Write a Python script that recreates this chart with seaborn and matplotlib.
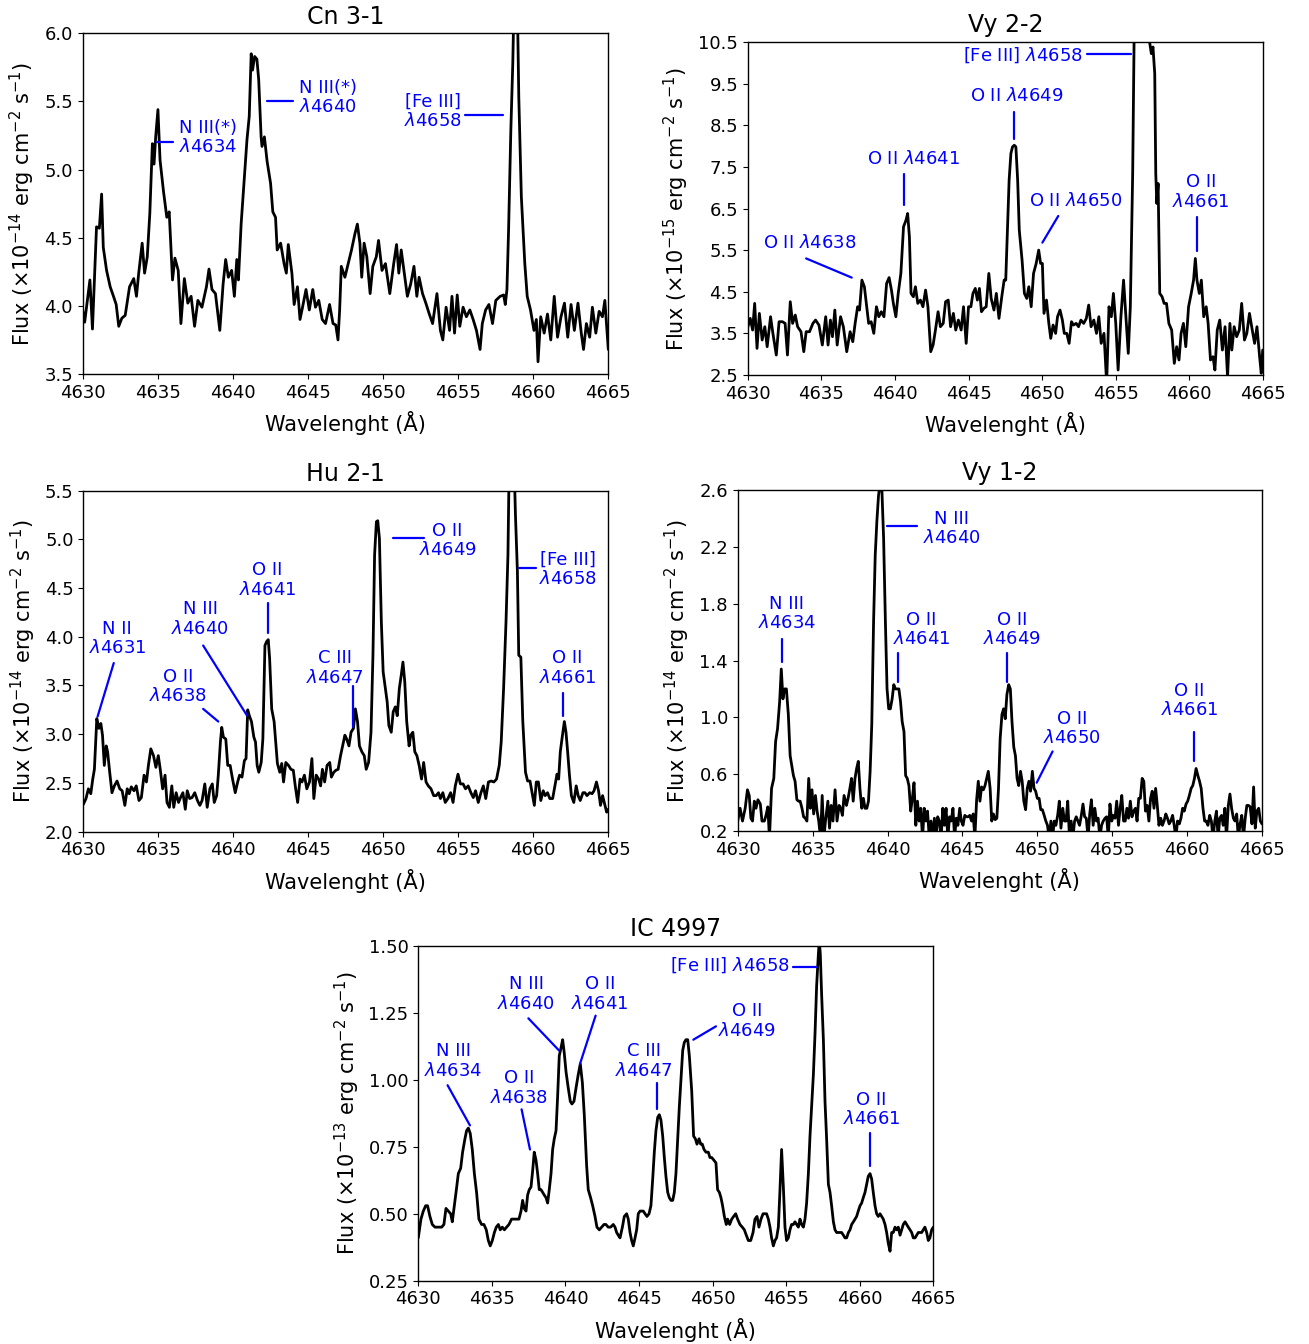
import numpy as np
import pandas as pd
import matplotlib
matplotlib.use("Agg")
import matplotlib.pyplot as plt
import seaborn as sns

# ---------------- data ----------------
titles = ["Cn 3-1", "Vy 2-2", "Hu 2-1", "Vy 1-2", "IC 4997"]
flux_exponents = [-14, -15, -14, -14, -13]
x_ticks = [4630, 4635, 4640, 4645, 4650, 4655, 4660, 4665]
y_ticks_cn31 = [3.5, 4.0, 4.5, 5.0, 5.5, 6.0]
y_ticks_vy22 = [2.5, 3.5, 4.5, 5.5, 6.5, 7.5, 8.5, 9.5, 10.5]
y_ticks_hu21 = [2.0, 2.5, 3.0, 3.5, 4.0, 4.5, 5.0, 5.5]
y_ticks_vy12 = [0.2, 0.6, 1.0, 1.4, 1.8, 2.2, 2.6]
y_ticks_ic4997 = [0.25, 0.50, 0.75, 1.00, 1.25, 1.50]

wl_cn31 = [4630.00, 4630.13, 4630.29, 4630.48, 4630.65, 4630.92, 4631.11, 4631.26, 4631.37, 4631.59,
           4631.83, 4632.05, 4632.23, 4632.40, 4632.61, 4632.83, 4633.12, 4633.40, 4633.58, 4633.73,
           4633.96, 4634.12, 4634.30, 4634.47, 4634.64, 4634.75, 4634.86, 4635.01, 4635.15, 4635.38,
           4635.60, 4635.76, 4635.98, 4636.14, 4636.36, 4636.54, 4636.77, 4637.00, 4637.22, 4637.45,
           4637.67, 4637.94, 4638.24, 4638.41, 4638.61, 4638.84, 4639.13, 4639.35, 4639.52, 4639.70,
           4639.92, 4640.10, 4640.26, 4640.37, 4640.55, 4640.77, 4640.94, 4641.09, 4641.22, 4641.31,
           4641.45, 4641.60, 4641.72, 4641.88, 4641.94, 4642.10, 4642.28, 4642.51, 4642.66, 4642.84,
           4642.95, 4643.18, 4643.41, 4643.56, 4643.69, 4643.93, 4644.08, 4644.30, 4644.47, 4644.64,
           4644.87, 4645.09, 4645.32, 4645.50, 4645.72, 4645.95, 4646.17, 4646.44, 4646.67, 4646.85,
           4647.00, 4647.11, 4647.22, 4647.46, 4647.68, 4647.90, 4648.13, 4648.29, 4648.46, 4648.58,
           4648.74, 4648.92, 4649.14, 4649.32, 4649.55, 4649.70, 4649.93, 4650.16, 4650.45, 4650.71,
           4650.90, 4651.05, 4651.21, 4651.39, 4651.62, 4651.84, 4652.06, 4652.25, 4652.40, 4652.63,
           4652.85, 4653.08, 4653.30, 4653.59, 4653.82, 4653.98, 4654.20, 4654.43, 4654.59, 4654.76,
           4654.94, 4655.11, 4655.33, 4655.55, 4655.78, 4656.00, 4656.22, 4656.46, 4656.61, 4656.83,
           4657.05, 4657.29, 4657.51, 4657.80, 4658.03, 4658.14, 4658.25, 4658.36, 4658.51, 4658.64,
           4658.75, 4658.92, 4659.04, 4659.21, 4659.44, 4659.60, 4659.82, 4660.05, 4660.21, 4660.32,
           4660.50, 4660.73, 4660.95, 4661.17, 4661.40, 4661.62, 4661.85, 4662.08, 4662.30, 4662.52,
           4662.74, 4662.98, 4663.20, 4663.35, 4663.54, 4663.76, 4663.94, 4664.17, 4664.39, 4664.61,
           4664.77, 4665.00]
flux_cn31 = [3.97, 3.88, 4.02, 4.19, 3.83, 4.58, 4.57, 4.82, 4.43, 4.26,
             4.14, 4.07, 4.01, 3.85, 3.91, 3.93, 4.14, 4.20, 4.07, 4.24,
             4.46, 4.24, 4.36, 4.68, 5.19, 5.04, 5.24, 5.44, 5.07, 4.84,
             4.65, 4.69, 4.19, 4.35, 4.26, 3.87, 4.20, 4.02, 4.07, 3.85,
             4.04, 3.99, 4.14, 4.27, 4.12, 4.09, 3.82, 4.16, 4.34, 4.21,
             4.26, 4.07, 4.34, 4.19, 4.60, 4.95, 5.22, 5.39, 5.85, 5.73,
             5.83, 5.81, 5.66, 5.24, 5.17, 5.24, 5.06, 4.90, 4.69, 4.65,
             4.41, 4.46, 4.31, 4.24, 4.45, 4.24, 4.01, 4.14, 3.90, 3.99,
             4.12, 3.97, 4.12, 3.99, 4.04, 3.90, 3.87, 4.01, 3.87, 3.86,
             3.75, 3.97, 4.29, 4.21, 4.31, 4.41, 4.53, 4.60, 4.46, 4.21,
             4.46, 4.36, 4.09, 4.29, 4.36, 4.48, 4.26, 4.31, 4.09, 4.31,
             4.45, 4.24, 4.41, 4.26, 4.07, 4.16, 4.29, 4.07, 4.21, 4.09,
             4.02, 3.94, 3.87, 4.09, 3.82, 3.75, 3.99, 3.82, 4.07, 3.80,
             4.08, 3.85, 3.99, 3.92, 3.97, 3.90, 3.82, 3.68, 3.87, 3.97,
             4.01, 3.87, 4.04, 4.07, 4.08, 4.01, 4.12, 4.56, 5.29, 5.78,
             6.40, 6.40, 5.53, 4.80, 4.31, 4.07, 3.97, 3.82, 3.90, 3.59,
             3.92, 3.80, 3.94, 3.75, 4.07, 3.77, 3.92, 4.02, 3.77, 4.01,
             3.82, 4.02, 3.80, 3.68, 3.87, 3.77, 3.99, 3.80, 3.96, 3.92,
             4.04, 3.68]

wl_vy22 = [4630.00, 4630.16, 4630.32, 4630.46, 4630.62, 4630.78, 4630.97, 4631.15, 4631.31, 4631.54,
           4631.70, 4631.93, 4632.12, 4632.35, 4632.53, 4632.69, 4632.88, 4633.04, 4633.22, 4633.38,
           4633.61, 4633.80, 4633.96, 4634.19, 4634.42, 4634.60, 4634.83, 4635.06, 4635.29, 4635.45,
           4635.61, 4635.75, 4635.91, 4636.07, 4636.30, 4636.49, 4636.72, 4636.95, 4637.13, 4637.29,
           4637.46, 4637.59, 4637.75, 4637.92, 4638.05, 4638.21, 4638.38, 4638.56, 4638.74, 4638.90,
           4639.07, 4639.25, 4639.43, 4639.60, 4639.76, 4639.89, 4640.06, 4640.22, 4640.40, 4640.58,
           4640.75, 4640.86, 4640.98, 4641.09, 4641.25, 4641.39, 4641.55, 4641.73, 4641.90, 4642.08,
           4642.24, 4642.43, 4642.59, 4642.75, 4642.93, 4643.09, 4643.28, 4643.44, 4643.62, 4643.78,
           4643.97, 4644.13, 4644.31, 4644.50, 4644.66, 4644.84, 4645.00, 4645.16, 4645.30, 4645.46,
           4645.60, 4645.74, 4645.88, 4646.04, 4646.20, 4646.38, 4646.54, 4646.73, 4646.89, 4647.07,
           4647.26, 4647.42, 4647.53, 4647.65, 4647.76, 4647.88, 4647.99, 4648.11, 4648.22, 4648.34,
           4648.45, 4648.64, 4648.80, 4648.96, 4649.10, 4649.26, 4649.42, 4649.60, 4649.77, 4649.90,
           4650.02, 4650.13, 4650.30, 4650.46, 4650.59, 4650.75, 4650.92, 4651.05, 4651.22, 4651.38,
           4651.51, 4651.68, 4651.84, 4652.00, 4652.14, 4652.32, 4652.48, 4652.64, 4652.83, 4653.01,
           4653.17, 4653.33, 4653.52, 4653.70, 4653.86, 4654.02, 4654.21, 4654.39, 4654.55, 4654.71,
           4654.85, 4655.01, 4655.17, 4655.36, 4655.54, 4655.70, 4655.86, 4656.00, 4656.16, 4656.28,
           4656.51, 4656.74, 4657.05, 4657.31, 4657.43, 4657.54, 4657.66, 4657.73, 4657.80, 4657.89,
           4658.00, 4658.16, 4658.30, 4658.46, 4658.62, 4658.81, 4658.99, 4659.15, 4659.31, 4659.45,
           4659.61, 4659.77, 4659.96, 4660.14, 4660.30, 4660.42, 4660.53, 4660.69, 4660.83, 4660.99,
           4661.16, 4661.29, 4661.45, 4661.62, 4661.75, 4661.91, 4662.08, 4662.26, 4662.44, 4662.61,
           4662.77, 4662.90, 4663.06, 4663.23, 4663.41, 4663.57, 4663.76, 4663.92, 4664.10, 4664.29,
           4664.45, 4664.61, 4664.79, 4664.90, 4665.00]
flux_vy22 = [3.66, 3.86, 3.58, 4.22, 3.14, 3.98, 3.34, 3.66, 3.18, 3.90,
             3.50, 2.98, 3.78, 3.78, 3.74, 2.98, 4.26, 3.74, 3.94, 3.66,
             3.54, 3.06, 3.54, 3.54, 3.74, 3.82, 3.70, 3.22, 3.90, 3.22,
             3.82, 3.42, 4.06, 3.22, 3.90, 3.66, 3.06, 3.54, 3.30, 3.74,
             4.14, 4.06, 4.78, 4.62, 4.22, 3.74, 3.78, 3.50, 4.14, 3.90,
             4.02, 3.90, 4.70, 4.84, 4.54, 4.22, 3.90, 4.46, 4.94, 6.06,
             6.22, 6.38, 5.82, 4.46, 4.38, 4.62, 4.22, 4.30, 4.14, 4.54,
             4.14, 3.06, 3.22, 3.58, 4.02, 3.66, 3.74, 4.26, 4.30, 3.66,
             3.98, 3.58, 3.82, 3.58, 4.14, 3.26, 4.14, 4.14, 4.46, 4.58,
             4.30, 4.58, 4.02, 4.10, 4.14, 4.94, 4.34, 4.06, 4.46, 3.86,
             4.38, 4.78, 4.78, 6.06, 7.18, 7.82, 7.98, 8.02, 7.98, 7.18,
             5.98, 5.26, 4.46, 4.34, 4.62, 4.14, 4.94, 5.18, 5.50, 5.18,
             5.18, 3.98, 4.30, 3.74, 3.38, 3.70, 3.50, 3.90, 4.06, 3.82,
             3.50, 3.50, 3.26, 3.78, 3.70, 3.74, 3.66, 3.82, 3.74, 3.86,
             4.18, 3.66, 3.82, 3.50, 3.90, 3.26, 3.50, 2.30, 4.14, 3.90,
             4.46, 3.74, 2.62, 3.90, 4.78, 3.90, 3.02, 4.14, 7.34, 11.50,
             13.00, 14.00, 12.50, 10.50, 10.22, 10.38, 9.74, 7.34, 6.62, 7.10,
             4.46, 4.38, 4.22, 4.22, 3.74, 3.58, 2.78, 3.18, 2.86, 3.50,
             3.74, 3.18, 4.14, 4.46, 4.78, 5.30, 4.78, 4.46, 4.78, 3.90,
             4.14, 3.74, 2.86, 2.94, 2.62, 3.58, 3.82, 3.10, 3.66, 2.45,
             3.74, 3.10, 3.66, 3.42, 3.58, 4.22, 3.34, 3.50, 3.98, 3.58,
             3.26, 3.66, 2.94, 2.54, 3.10]

wl_hu21 = [4630.00, 4630.18, 4630.34, 4630.50, 4630.63, 4630.74, 4630.90, 4631.04, 4631.17, 4631.28,
           4631.40, 4631.53, 4631.62, 4631.76, 4631.91, 4632.07, 4632.25, 4632.43, 4632.59, 4632.77,
           4632.93, 4633.06, 4633.20, 4633.38, 4633.53, 4633.71, 4633.87, 4634.05, 4634.21, 4634.34,
           4634.50, 4634.68, 4634.84, 4635.00, 4635.13, 4635.29, 4635.45, 4635.58, 4635.74, 4635.90,
           4636.03, 4636.19, 4636.35, 4636.48, 4636.64, 4636.80, 4636.93, 4637.09, 4637.25, 4637.43,
           4637.61, 4637.77, 4637.92, 4638.10, 4638.26, 4638.44, 4638.60, 4638.73, 4638.89, 4639.00,
           4639.14, 4639.23, 4639.34, 4639.50, 4639.63, 4639.79, 4639.95, 4640.13, 4640.29, 4640.42,
           4640.58, 4640.74, 4640.85, 4640.96, 4641.07, 4641.21, 4641.37, 4641.48, 4641.59, 4641.70,
           4641.86, 4641.97, 4642.11, 4642.22, 4642.33, 4642.42, 4642.56, 4642.72, 4642.83, 4642.94,
           4643.10, 4643.23, 4643.35, 4643.50, 4643.68, 4643.84, 4644.00, 4644.13, 4644.29, 4644.45,
           4644.58, 4644.74, 4644.90, 4645.08, 4645.24, 4645.37, 4645.53, 4645.69, 4645.82, 4645.94,
           4646.09, 4646.25, 4646.43, 4646.54, 4646.70, 4646.84, 4646.99, 4647.15, 4647.29, 4647.44,
           4647.56, 4647.71, 4647.85, 4648.01, 4648.14, 4648.28, 4648.41, 4648.57, 4648.73, 4648.86,
           4649.02, 4649.18, 4649.31, 4649.42, 4649.54, 4649.63, 4649.74, 4649.87, 4649.99, 4650.14,
           4650.26, 4650.37, 4650.53, 4650.66, 4650.80, 4650.93, 4651.07, 4651.20, 4651.31, 4651.43,
           4651.56, 4651.72, 4651.83, 4651.97, 4652.10, 4652.24, 4652.39, 4652.55, 4652.69, 4652.85,
           4653.00, 4653.18, 4653.36, 4653.52, 4653.68, 4653.81, 4653.97, 4654.13, 4654.31, 4654.49,
           4654.65, 4654.80, 4654.98, 4655.14, 4655.32, 4655.48, 4655.66, 4655.84, 4656.00, 4656.15,
           4656.33, 4656.51, 4656.67, 4656.83, 4657.01, 4657.19, 4657.37, 4657.55, 4657.73, 4657.86,
           4658.02, 4658.18, 4658.31, 4658.43, 4658.65, 4658.81, 4658.94, 4659.03, 4659.17, 4659.30,
           4659.48, 4659.62, 4659.78, 4659.93, 4660.07, 4660.20, 4660.34, 4660.50, 4660.66, 4660.79,
           4660.95, 4661.10, 4661.29, 4661.44, 4661.58, 4661.69, 4661.80, 4661.91, 4662.07, 4662.18,
           4662.29, 4662.41, 4662.54, 4662.70, 4662.86, 4662.99, 4663.13, 4663.31, 4663.44, 4663.58,
           4663.76, 4663.92, 4664.05, 4664.21, 4664.35, 4664.48, 4664.62, 4664.73, 4664.89, 4665.00]
flux_hu21 = [2.28, 2.34, 2.44, 2.39, 2.54, 2.64, 3.16, 3.06, 3.11, 2.99,
             2.68, 2.88, 2.82, 2.61, 2.40, 2.47, 2.52, 2.44, 2.42, 2.27,
             2.44, 2.39, 2.46, 2.42, 2.47, 2.32, 2.35, 2.58, 2.51, 2.68,
             2.85, 2.78, 2.66, 2.78, 2.64, 2.44, 2.58, 2.30, 2.25, 2.47,
             2.25, 2.40, 2.30, 2.35, 2.40, 2.23, 2.42, 2.34, 2.35, 2.40,
             2.32, 2.27, 2.32, 2.49, 2.25, 2.44, 2.49, 2.30, 2.37, 2.58,
             2.92, 3.07, 2.97, 2.95, 2.68, 2.68, 2.54, 2.40, 2.51, 2.58,
             2.56, 2.73, 2.75, 3.25, 3.19, 3.13, 2.97, 2.92, 2.68, 2.61,
             2.71, 2.95, 3.91, 3.95, 3.97, 3.78, 3.26, 3.13, 2.92, 2.70,
             2.61, 2.70, 2.51, 2.71, 2.68, 2.64, 2.63, 2.47, 2.30, 2.54,
             2.51, 2.58, 2.44, 2.51, 2.75, 2.34, 2.58, 2.54, 2.47, 2.64,
             2.51, 2.68, 2.71, 2.56, 2.61, 2.63, 2.64, 2.78, 2.88, 2.99,
             2.95, 2.88, 3.02, 3.06, 3.26, 3.13, 2.88, 2.82, 2.78, 2.64,
             2.71, 3.02, 3.81, 4.84, 5.18, 5.19, 5.01, 4.15, 3.64, 3.47,
             3.33, 3.09, 3.02, 3.23, 3.28, 3.19, 3.47, 3.61, 3.74, 3.54,
             3.13, 2.88, 2.99, 3.02, 2.82, 2.78, 2.68, 2.54, 2.71, 2.51,
             2.47, 2.44, 2.37, 2.37, 2.40, 2.34, 2.40, 2.30, 2.34, 2.40,
             2.30, 2.47, 2.59, 2.49, 2.49, 2.44, 2.47, 2.40, 2.35, 2.42,
             2.30, 2.40, 2.47, 2.34, 2.51, 2.52, 2.51, 2.54, 2.68, 2.92,
             3.47, 4.15, 4.84, 6.20, 6.20, 5.25, 4.67, 3.81, 3.79, 3.13,
             2.61, 2.52, 2.52, 2.39, 2.27, 2.51, 2.51, 2.32, 2.42, 2.37,
             2.40, 2.34, 2.34, 2.47, 2.59, 2.54, 2.82, 2.95, 3.13, 3.02,
             2.82, 2.58, 2.37, 2.30, 2.47, 2.37, 2.32, 2.40, 2.40, 2.37,
             2.40, 2.39, 2.42, 2.51, 2.42, 2.27, 2.37, 2.30, 2.20, 2.23]

wl_vy12 = [4630.00, 4630.16, 4630.32, 4630.50, 4630.65, 4630.77, 4630.88, 4630.99, 4631.11, 4631.22,
           4631.35, 4631.51, 4631.62, 4631.78, 4631.89, 4632.01, 4632.12, 4632.26, 4632.41, 4632.53,
           4632.66, 4632.80, 4632.91, 4633.02, 4633.13, 4633.25, 4633.38, 4633.50, 4633.61, 4633.72,
           4633.83, 4633.95, 4634.06, 4634.17, 4634.29, 4634.40, 4634.51, 4634.62, 4634.74, 4634.85,
           4634.96, 4635.07, 4635.19, 4635.30, 4635.41, 4635.53, 4635.64, 4635.75, 4635.86, 4636.02,
           4636.13, 4636.24, 4636.36, 4636.50, 4636.63, 4636.77, 4636.88, 4636.99, 4637.10, 4637.26,
           4637.37, 4637.49, 4637.60, 4637.71, 4637.83, 4637.94, 4638.05, 4638.16, 4638.28, 4638.39,
           4638.50, 4638.62, 4638.73, 4638.84, 4638.95, 4639.07, 4639.18, 4639.29, 4639.40, 4639.52,
           4639.63, 4639.74, 4639.86, 4639.97, 4640.08, 4640.19, 4640.31, 4640.42, 4640.53, 4640.65,
           4640.76, 4640.87, 4640.98, 4641.10, 4641.21, 4641.32, 4641.43, 4641.55, 4641.66, 4641.77,
           4641.89, 4642.00, 4642.11, 4642.22, 4642.34, 4642.45, 4642.56, 4642.67, 4642.79, 4642.90,
           4643.01, 4643.13, 4643.24, 4643.35, 4643.46, 4643.58, 4643.69, 4643.80, 4643.91, 4644.03,
           4644.14, 4644.25, 4644.37, 4644.48, 4644.59, 4644.70, 4644.82, 4644.93, 4645.04, 4645.16,
           4645.27, 4645.38, 4645.49, 4645.61, 4645.72, 4645.83, 4645.95, 4646.06, 4646.17, 4646.28,
           4646.40, 4646.51, 4646.62, 4646.73, 4646.85, 4646.96, 4647.07, 4647.19, 4647.30, 4647.41,
           4647.52, 4647.64, 4647.75, 4647.86, 4647.97, 4648.09, 4648.20, 4648.31, 4648.43, 4648.54,
           4648.65, 4648.76, 4648.88, 4648.99, 4649.10, 4649.22, 4649.33, 4649.44, 4649.55, 4649.67,
           4649.78, 4649.89, 4650.00, 4650.12, 4650.23, 4650.34, 4650.46, 4650.57, 4650.68, 4650.79,
           4650.91, 4651.02, 4651.13, 4651.24, 4651.36, 4651.47, 4651.58, 4651.70, 4651.81, 4651.92,
           4652.03, 4652.15, 4652.26, 4652.37, 4652.49, 4652.60, 4652.71, 4652.82, 4652.94, 4653.05,
           4653.16, 4653.27, 4653.39, 4653.50, 4653.61, 4653.73, 4653.84, 4653.95, 4654.06, 4654.18,
           4654.29, 4654.40, 4654.52, 4654.63, 4654.74, 4654.85, 4654.97, 4655.08, 4655.19, 4655.30,
           4655.42, 4655.53, 4655.64, 4655.76, 4655.87, 4655.98, 4656.09, 4656.21, 4656.32, 4656.43,
           4656.55, 4656.66, 4656.77, 4656.88, 4657.00, 4657.11, 4657.22, 4657.33, 4657.45, 4657.56,
           4657.67, 4657.79, 4657.90, 4658.01, 4658.12, 4658.24, 4658.35, 4658.46, 4658.58, 4658.69,
           4658.80, 4658.91, 4659.03, 4659.14, 4659.25, 4659.36, 4659.48, 4659.59, 4659.70, 4659.81,
           4659.93, 4660.04, 4660.15, 4660.27, 4660.38, 4660.49, 4660.60, 4660.72, 4660.83, 4660.94,
           4661.06, 4661.17, 4661.28, 4661.39, 4661.51, 4661.62, 4661.73, 4661.85, 4661.96, 4662.07,
           4662.18, 4662.30, 4662.41, 4662.52, 4662.63, 4662.75, 4662.86, 4662.97, 4663.09, 4663.20,
           4663.31, 4663.42, 4663.54, 4663.65, 4663.76, 4663.88, 4663.99, 4664.10, 4664.21, 4664.33,
           4664.44, 4664.55, 4664.66, 4664.78, 4664.89, 4665.00]
flux_vy12 = [0.27, 0.36, 0.27, 0.36, 0.49, 0.45, 0.29, 0.27, 0.41, 0.36,
             0.42, 0.39, 0.27, 0.27, 0.31, 0.37, 0.15, 0.50, 0.57, 0.83,
             0.92, 1.11, 1.34, 1.13, 1.20, 1.20, 1.02, 0.73, 0.66, 0.59,
             0.55, 0.42, 0.41, 0.41, 0.36, 0.30, 0.29, 0.27, 0.57, 0.36,
             0.49, 0.32, 0.45, 0.34, 0.27, 0.15, 0.45, 0.15, 0.27, 0.41,
             0.22, 0.38, 0.27, 0.49, 0.27, 0.38, 0.36, 0.31, 0.45, 0.38,
             0.43, 0.50, 0.57, 0.41, 0.57, 0.64, 0.69, 0.50, 0.36, 0.43,
             0.36, 0.36, 0.41, 0.62, 0.95, 1.67, 2.14, 2.38, 2.56, 2.66,
             2.59, 2.26, 1.67, 1.20, 1.06, 1.06, 1.13, 1.23, 1.20, 1.20,
             1.20, 1.11, 0.97, 0.90, 0.59, 0.57, 0.52, 0.34, 0.43, 0.54,
             0.24, 0.41, 0.27, 0.36, 0.15, 0.36, 0.27, 0.34, 0.15, 0.27,
             0.15, 0.29, 0.15, 0.30, 0.27, 0.15, 0.36, 0.24, 0.36, 0.15,
             0.30, 0.27, 0.36, 0.15, 0.29, 0.24, 0.36, 0.27, 0.24, 0.31,
             0.30, 0.30, 0.31, 0.27, 0.32, 0.15, 0.42, 0.55, 0.41, 0.51,
             0.49, 0.52, 0.57, 0.62, 0.50, 0.27, 0.32, 0.28, 0.29, 0.50,
             0.85, 1.02, 1.06, 0.99, 1.16, 1.23, 1.20, 0.97, 0.79, 0.73,
             0.57, 0.52, 0.62, 0.55, 0.41, 0.35, 0.50, 0.55, 0.48, 0.62,
             0.50, 0.48, 0.43, 0.43, 0.35, 0.35, 0.31, 0.27, 0.24, 0.15,
             0.27, 0.15, 0.27, 0.24, 0.31, 0.41, 0.22, 0.36, 0.27, 0.27,
             0.41, 0.15, 0.27, 0.15, 0.27, 0.30, 0.27, 0.24, 0.31, 0.39,
             0.30, 0.29, 0.15, 0.32, 0.42, 0.24, 0.36, 0.27, 0.29, 0.15,
             0.24, 0.27, 0.29, 0.30, 0.15, 0.39, 0.27, 0.31, 0.29, 0.41,
             0.24, 0.36, 0.45, 0.27, 0.27, 0.36, 0.29, 0.41, 0.30, 0.34,
             0.36, 0.27, 0.43, 0.43, 0.57, 0.55, 0.34, 0.38, 0.27, 0.43,
             0.48, 0.36, 0.50, 0.38, 0.24, 0.29, 0.24, 0.27, 0.32, 0.29,
             0.25, 0.27, 0.31, 0.24, 0.15, 0.27, 0.25, 0.29, 0.36, 0.34,
             0.39, 0.41, 0.45, 0.50, 0.52, 0.57, 0.64, 0.59, 0.55, 0.50,
             0.36, 0.27, 0.27, 0.24, 0.31, 0.27, 0.15, 0.27, 0.34, 0.15,
             0.29, 0.31, 0.24, 0.36, 0.15, 0.38, 0.46, 0.36, 0.29, 0.27,
             0.32, 0.15, 0.25, 0.31, 0.15, 0.29, 0.38, 0.38, 0.37, 0.25,
             0.51, 0.22, 0.34, 0.36, 0.27, 0.25]

wl_ic4997 = [4630.00, 4630.18, 4630.34, 4630.50, 4630.63, 4630.79, 4630.95, 4631.13, 4631.36, 4631.59,
             4631.74, 4631.88, 4632.04, 4632.20, 4632.31, 4632.45, 4632.61, 4632.72, 4632.88, 4633.01,
             4633.17, 4633.28, 4633.40, 4633.53, 4633.67, 4633.81, 4633.96, 4634.12, 4634.30, 4634.46,
             4634.62, 4634.76, 4634.89, 4635.03, 4635.17, 4635.30, 4635.44, 4635.57, 4635.71, 4635.85,
             4636.00, 4636.16, 4636.34, 4636.50, 4636.68, 4636.84, 4636.98, 4637.09, 4637.20, 4637.32,
             4637.43, 4637.54, 4637.66, 4637.77, 4637.88, 4638.00, 4638.11, 4638.22, 4638.34, 4638.45,
             4638.56, 4638.68, 4638.79, 4638.90, 4639.02, 4639.13, 4639.24, 4639.36, 4639.47, 4639.58,
             4639.70, 4639.81, 4639.92, 4640.04, 4640.19, 4640.33, 4640.44, 4640.58, 4640.72, 4640.87,
             4641.01, 4641.15, 4641.28, 4641.44, 4641.55, 4641.71, 4641.85, 4642.01, 4642.14, 4642.30,
             4642.46, 4642.62, 4642.75, 4642.91, 4643.07, 4643.25, 4643.37, 4643.48, 4643.59, 4643.71,
             4643.87, 4644.00, 4644.16, 4644.27, 4644.39, 4644.50, 4644.61, 4644.73, 4644.84, 4644.95,
             4645.07, 4645.18, 4645.29, 4645.41, 4645.54, 4645.68, 4645.81, 4645.93, 4646.04, 4646.15,
             4646.27, 4646.38, 4646.49, 4646.61, 4646.72, 4646.83, 4646.95, 4647.06, 4647.17, 4647.29,
             4647.40, 4647.51, 4647.63, 4647.74, 4647.85, 4647.97, 4648.08, 4648.19, 4648.31, 4648.42,
             4648.58, 4648.71, 4648.83, 4648.94, 4649.08, 4649.19, 4649.30, 4649.42, 4649.55, 4649.71,
             4649.82, 4649.94, 4650.09, 4650.23, 4650.34, 4650.46, 4650.57, 4650.68, 4650.80, 4650.93,
             4651.02, 4651.16, 4651.30, 4651.43, 4651.57, 4651.70, 4651.86, 4652.02, 4652.16, 4652.29,
             4652.43, 4652.59, 4652.75, 4652.88, 4653.02, 4653.15, 4653.29, 4653.43, 4653.56, 4653.67,
             4653.79, 4653.90, 4654.01, 4654.13, 4654.24, 4654.35, 4654.47, 4654.58, 4654.69, 4654.81,
             4654.92, 4655.03, 4655.15, 4655.26, 4655.37, 4655.49, 4655.60, 4655.71, 4655.83, 4655.94,
             4656.05, 4656.17, 4656.28, 4656.39, 4656.51, 4656.62, 4656.73, 4656.85, 4656.96, 4657.07,
             4657.19, 4657.25, 4657.32, 4657.41, 4657.53, 4657.64, 4657.75, 4657.87, 4657.98, 4658.09,
             4658.21, 4658.32, 4658.43, 4658.55, 4658.66, 4658.77, 4658.89, 4659.00, 4659.11, 4659.23,
             4659.34, 4659.45, 4659.57, 4659.68, 4659.79, 4659.90, 4660.02, 4660.13, 4660.24, 4660.36,
             4660.47, 4660.58, 4660.70, 4660.81, 4660.92, 4661.04, 4661.15, 4661.26, 4661.38, 4661.49,
             4661.60, 4661.72, 4661.83, 4661.94, 4662.06, 4662.17, 4662.28, 4662.40, 4662.51, 4662.62,
             4662.74, 4662.85, 4662.96, 4663.08, 4663.19, 4663.30, 4663.42, 4663.53, 4663.64, 4663.76,
             4663.87, 4663.98, 4664.10, 4664.21, 4664.32, 4664.43, 4664.55, 4664.66, 4664.77, 4664.89,
             4665.00]
flux_ic4997 = [0.41, 0.48, 0.51, 0.53, 0.53, 0.49, 0.46, 0.45, 0.45, 0.45,
               0.46, 0.52, 0.51, 0.50, 0.47, 0.53, 0.60, 0.65, 0.67, 0.73,
               0.78, 0.81, 0.82, 0.80, 0.74, 0.65, 0.58, 0.48, 0.46, 0.46,
               0.44, 0.40, 0.38, 0.40, 0.43, 0.45, 0.46, 0.44, 0.45, 0.44,
               0.45, 0.46, 0.48, 0.48, 0.48, 0.48, 0.51, 0.55, 0.52, 0.51,
               0.57, 0.59, 0.60, 0.66, 0.73, 0.70, 0.65, 0.59, 0.59, 0.58,
               0.57, 0.56, 0.54, 0.59, 0.65, 0.74, 0.78, 0.81, 0.94, 1.09,
               1.12, 1.15, 1.10, 1.03, 0.97, 0.92, 0.91, 0.92, 0.97, 1.02,
               1.06, 0.99, 0.87, 0.68, 0.59, 0.56, 0.53, 0.49, 0.45, 0.44,
               0.45, 0.46, 0.46, 0.45, 0.45, 0.46, 0.45, 0.43, 0.42, 0.41,
               0.45, 0.49, 0.50, 0.48, 0.43, 0.40, 0.38, 0.41, 0.44, 0.50,
               0.51, 0.51, 0.51, 0.50, 0.49, 0.50, 0.53, 0.63, 0.73, 0.81,
               0.86, 0.87, 0.85, 0.79, 0.71, 0.64, 0.58, 0.56, 0.55, 0.55,
               0.58, 0.65, 0.78, 0.90, 1.00, 1.11, 1.14, 1.15, 1.15, 1.09,
               0.96, 0.79, 0.78, 0.76, 0.78, 0.76, 0.76, 0.74, 0.73, 0.73,
               0.71, 0.71, 0.70, 0.69, 0.59, 0.58, 0.56, 0.53, 0.49, 0.46,
               0.48, 0.46, 0.48, 0.49, 0.50, 0.48, 0.46, 0.45, 0.44, 0.42,
               0.40, 0.40, 0.43, 0.48, 0.49, 0.45, 0.48, 0.50, 0.50, 0.50,
               0.48, 0.45, 0.41, 0.38, 0.40, 0.41, 0.45, 0.59, 0.74, 0.60,
               0.45, 0.40, 0.41, 0.44, 0.46, 0.46, 0.47, 0.46, 0.45, 0.48,
               0.46, 0.45, 0.48, 0.54, 0.65, 0.79, 0.90, 1.02, 1.17, 1.35,
               1.47, 1.52, 1.47, 1.32, 1.15, 0.92, 0.78, 0.61, 0.58, 0.53,
               0.47, 0.44, 0.43, 0.43, 0.43, 0.43, 0.42, 0.41, 0.41, 0.43,
               0.44, 0.46, 0.47, 0.48, 0.49, 0.51, 0.53, 0.54, 0.56, 0.58,
               0.61, 0.64, 0.65, 0.63, 0.58, 0.53, 0.50, 0.49, 0.50, 0.49,
               0.48, 0.46, 0.43, 0.39, 0.36, 0.43, 0.43, 0.45, 0.44, 0.45,
               0.42, 0.44, 0.46, 0.47, 0.46, 0.45, 0.44, 0.43, 0.41, 0.41,
               0.42, 0.43, 0.43, 0.43, 0.44, 0.45, 0.43, 0.40, 0.41, 0.44,
               0.45]

# line identifications: (label, text x, text y)
labels_cn31 = [("N III(*)\n$\\lambda$4634", 4638.37, 5.235),
               ("N III(*)\n$\\lambda$4640", 4646.35, 5.53),
               ("[Fe III]\n$\\lambda$4658", 4653.35, 5.43)]
labels_vy22 = [("[Fe III] $\\lambda$4658", 4648.68, 10.19),
               ("O II $\\lambda$4649", 4648.25, 9.20),
               ("O II $\\lambda$4641", 4641.23, 7.68),
               ("O II $\\lambda$4650", 4652.25, 6.68),
               ("O II $\\lambda$4638", 4634.23, 5.68),
               ("O II\n$\\lambda$4661", 4660.79, 6.90)]
labels_hu21 = [("N II\n$\\lambda$4631", 4632.27, 3.98),
               ("O II\n$\\lambda$4638", 4636.32, 3.49),
               ("N III\n$\\lambda$4640", 4637.79, 4.18),
               ("O II\n$\\lambda$4641", 4642.29, 4.58),
               ("C III\n$\\lambda$4647", 4646.77, 3.68),
               ("O II\n$\\lambda$4649", 4654.29, 4.99),
               ("[Fe III]\n$\\lambda$4658", 4662.30, 4.69),
               ("O II\n$\\lambda$4661", 4662.27, 3.68)]
labels_vy12 = [("N III\n$\\lambda$4640", 4644.28, 2.33),
               ("N III\n$\\lambda$4634", 4633.29, 1.73),
               ("O II\n$\\lambda$4641", 4642.27, 1.62),
               ("O II\n$\\lambda$4649", 4648.31, 1.62),
               ("O II\n$\\lambda$4650", 4652.30, 0.92),
               ("O II\n$\\lambda$4661", 4660.15, 1.12)]
labels_ic4997 = [("[Fe III] $\\lambda$4658", 4651.14, 1.43),
                 ("N III\n$\\lambda$4640", 4637.34, 1.32),
                 ("O II\n$\\lambda$4641", 4642.35, 1.32),
                 ("O II\n$\\lambda$4649", 4652.34, 1.22),
                 ("N III\n$\\lambda$4634", 4632.36, 1.07),
                 ("O II\n$\\lambda$4638", 4636.86, 0.97),
                 ("C III\n$\\lambda$4647", 4645.34, 1.07),
                 ("O II\n$\\lambda$4661", 4660.81, 0.89)]

# leader lines: (x0, y0, x1, y1)
leaders_cn31 = [(4634.93, 5.20, 4635.98, 5.20), (4642.28, 5.50, 4644.01, 5.50),
                (4655.44, 5.40, 4657.98, 5.40)]
leaders_vy22 = [(4653.06, 10.20, 4656.05, 10.20), (4648.06, 8.82, 4648.06, 8.18),
                (4640.63, 7.32, 4640.63, 6.58), (4651.10, 6.32, 4650.02, 5.68),
                (4633.96, 5.30, 4637.06, 4.84), (4660.56, 6.30, 4660.56, 5.48)]
leaders_hu21 = [(4632.03, 3.73, 4630.95, 3.18), (4637.99, 3.26, 4639.00, 3.13),
                (4637.99, 3.91, 4640.92, 3.19), (4642.29, 4.35, 4642.29, 4.04),
                (4647.96, 3.49, 4647.96, 3.07), (4650.66, 5.01, 4652.69, 5.01),
                (4659.03, 4.70, 4660.21, 4.70), (4661.96, 3.42, 4661.96, 3.19)]
leaders_vy12 = [(4639.97, 2.35, 4642.00, 2.35), (4632.93, 1.55, 4632.93, 1.39),
                (4640.69, 1.45, 4640.69, 1.25), (4647.97, 1.45, 4647.97, 1.25),
                (4651.02, 0.76, 4649.96, 0.54), (4660.49, 0.90, 4660.49, 0.69)]
leaders_ic4997 = [(4655.49, 1.42, 4657.03, 1.42), (4637.48, 1.23, 4639.56, 1.11),
                  (4642.05, 1.24, 4640.99, 1.06), (4650.23, 1.20, 4648.69, 1.15),
                  (4631.99, 0.98, 4633.51, 0.83), (4637.02, 0.89, 4637.59, 0.74),
                  (4646.24, 0.99, 4646.24, 0.89), (4660.70, 0.80, 4660.70, 0.68)]

# ---------------- style ----------------
sns.set_theme(style="ticks", rc={
    "axes.edgecolor": "black", "axes.linewidth": 1.0,
    "xtick.color": "black", "ytick.color": "black",
    "xtick.major.size": 3.5, "ytick.major.size": 3.5,
    "xtick.major.width": 0.8, "ytick.major.width": 0.8,
    "text.color": "black", "axes.labelcolor": "black",
})
plt.rcParams["font.family"] = ["DejaVu Sans"]
plt.rcParams["mathtext.fontset"] = "dejavusans"

W, H = 1309, 1344
fig = plt.figure(figsize=(W / 100, H / 100), dpi=100)

# axes boxes in pixels: left, top, right, bottom
boxes = [(82.7, 33.3, 608.3, 374.0),
         (747.9, 42.0, 1262.7, 375.0),
         (83.3, 490.5, 608.3, 831.7),
         (737.7, 490.0, 1262.0, 831.0),
         (418.3, 946.0, 933.3, 1280.7)]

panels = [
    (wl_cn31, flux_cn31, y_ticks_cn31, labels_cn31, leaders_cn31),
    (wl_vy22, flux_vy22, y_ticks_vy22, labels_vy22, leaders_vy22),
    (wl_hu21, flux_hu21, y_ticks_hu21, labels_hu21, leaders_hu21),
    (wl_vy12, flux_vy12, y_ticks_vy12, labels_vy12, leaders_vy12),
    (wl_ic4997, flux_ic4997, y_ticks_ic4997, labels_ic4997, leaders_ic4997),
]

for i, (wl, fl, yt, labs, leads) in enumerate(panels):
    l, t, r, b = boxes[i]
    ax = fig.add_axes([l / W, 1 - b / H, (r - l) / W, (b - t) / H])
    df = pd.DataFrame({"wl": wl, "flux": fl})
    sns.lineplot(data=df, x="wl", y="flux", ax=ax, color="black", lw=2.0,
                 estimator=None, sort=False)
    ax.set_xlim(x_ticks[0], x_ticks[-1])
    ax.set_ylim(yt[0], yt[-1])
    ax.set_xticks(x_ticks)
    ax.set_yticks(yt)
    ax.tick_params(labelsize=13)
    ax.set_title(titles[i], fontsize=17, pad=7)
    ax.set_xlabel("Wavelenght (Å)", fontsize=15, labelpad=7)
    ax.set_ylabel("Flux ($\\times10^{%d}$ erg cm$^{-2}$ s$^{-1}$)" % flux_exponents[i],
                  fontsize=15, labelpad=5)
    for (x0, y0, x1, y1) in leads:
        ax.plot([x0, x1], [y0, y1], color="blue", lw=1.6)
    for (txt, tx, ty) in labs:
        ax.text(tx, ty, txt, color="blue", fontsize=13, ha="center", va="center",
                multialignment="center", linespacing=1.1)

fig.savefig("out.png", dpi=100)
